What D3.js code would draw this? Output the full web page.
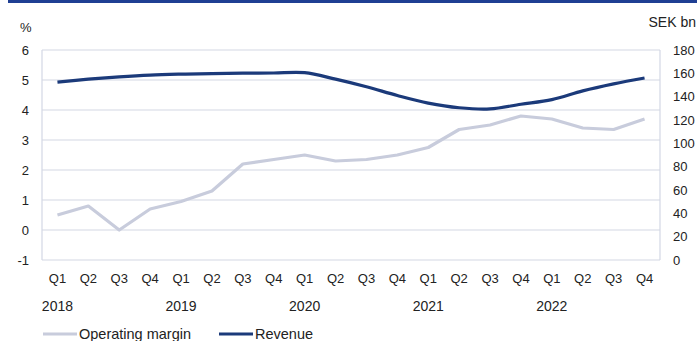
<!DOCTYPE html>
<html>
<head>
<meta charset="utf-8">
<script src="https://cdn.jsdelivr.net/npm/d3@7"></script>
<style>
  html, body { margin: 0; padding: 0; background: #fff; }
  svg { display: block; font-family: "Liberation Sans", Arial, sans-serif; }
</style>
</head>
<body>
<svg id="chart" width="697" height="341"></svg>
<script>
// Quarterly figures, 2018 Q1 – 2022 Q4
const quarters = ["Q1","Q2","Q3","Q4","Q1","Q2","Q3","Q4","Q1","Q2","Q3","Q4",
                  "Q1","Q2","Q3","Q4","Q1","Q2","Q3","Q4"];
const years = ["2018","2019","2020","2021","2022"];
const operatingMargin = [0.5, 0.8, 0.0, 0.7, 0.95, 1.3, 2.2, 2.35, 2.5, 2.3,
                         2.35, 2.5, 2.75, 3.35, 3.5, 3.8, 3.7, 3.4, 3.35, 3.7];
const revenue = [152.5, 155, 157, 158.5, 159.3, 159.8, 160.1, 160.3, 160.6, 155,
                 148.5, 141, 134.5, 130.5, 129.5, 133.5, 137.5, 145, 151, 156];
const leftTicks = [-1, 0, 1, 2, 3, 4, 5, 6];
const rightTicks = [0, 20, 40, 60, 80, 100, 120, 140, 160, 180];

const svg = d3.select("#chart");
const plot = { left: 42, right: 660, top: 50, bottom: 260 };
const navy = "#1b3a7a", grey = "#c8ccdc", grid = "#d3d7e4";

// Top rule
svg.append("rect").attr("x", 8).attr("y", 0).attr("width", 689).attr("height", 3)
  .attr("fill", "#1f3f93");

const idx = d3.range(quarters.length);
const x = d3.scaleBand().domain(idx).range([plot.left, plot.right]);
const xc = i => x(i) + x.bandwidth() / 2;
const yL = d3.scaleLinear().domain([-1, 6]).range([plot.bottom, plot.top]);
const yR = d3.scaleLinear().domain([0, 180]).range([plot.bottom, plot.top]);

// Horizontal gridlines
svg.append("g").selectAll("line").data(leftTicks).join("line")
  .attr("x1", plot.left).attr("x2", plot.right)
  .attr("y1", d => yL(d)).attr("y2", d => yL(d))
  .attr("stroke", grid).attr("stroke-width", 1.2);

// Plot frame sides
svg.append("line").attr("x1", plot.left).attr("x2", plot.left)
  .attr("y1", plot.top).attr("y2", plot.bottom).attr("stroke", grid).attr("stroke-width", 1.2);
svg.append("line").attr("x1", plot.right).attr("x2", plot.right)
  .attr("y1", plot.top).attr("y2", plot.bottom).attr("stroke", grid).attr("stroke-width", 1.2);

// Left axis labels
svg.append("g").selectAll("text").data(leftTicks).join("text")
  .attr("x", 29).attr("y", d => yL(d)).attr("dy", "0.35em")
  .attr("text-anchor", "end").attr("font-size", 13).attr("fill", "#222")
  .text(d => d);
svg.append("text").attr("x", 20).attr("y", 32).attr("font-size", 13).attr("fill", "#222").text("%");

// Right axis labels
svg.append("g").selectAll("text").data(rightTicks).join("text")
  .attr("x", 673).attr("y", d => yR(d)).attr("dy", "0.35em")
  .attr("text-anchor", "start").attr("font-size", 13).attr("fill", "#222")
  .text(d => d);
svg.append("text").attr("x", 696).attr("y", 27).attr("text-anchor", "end")
  .attr("font-size", 14).attr("fill", "#222").text("SEK bn");

// Quarter and year labels
svg.append("g").selectAll("text").data(idx).join("text")
  .attr("x", d => xc(d)).attr("y", 283).attr("text-anchor", "middle")
  .attr("font-size", 13).attr("fill", "#222").text(d => quarters[d]);
svg.append("g").selectAll("text").data(years).join("text")
  .attr("x", (d, i) => xc(i * 4)).attr("y", 311).attr("text-anchor", "middle")
  .attr("font-size", 14).attr("fill", "#222").text(d => d);

// Series lines
const marginLine = d3.line().x((d, i) => xc(i)).y(d => yL(d));
const revenueLine = d3.line().x((d, i) => xc(i)).y(d => yR(d)).curve(d3.curveCatmullRom.alpha(0.5));

svg.append("path").datum(operatingMargin).attr("d", marginLine)
  .attr("fill", "none").attr("stroke", grey).attr("stroke-width", 3.2)
  .attr("stroke-linejoin", "round");
svg.append("path").datum(revenue).attr("d", revenueLine)
  .attr("fill", "none").attr("stroke", navy).attr("stroke-width", 3.2)
  .attr("stroke-linejoin", "round");

// Legend
const legend = [
  { name: "Operating margin", color: grey, x: 43 },
  { name: "Revenue", color: navy, x: 219 }
];
const lg = svg.append("g").selectAll("g").data(legend).join("g");
lg.append("line").attr("x1", d => d.x).attr("x2", d => d.x + 34)
  .attr("y1", 334).attr("y2", 334).attr("stroke", d => d.color).attr("stroke-width", 3.2);
lg.append("text").attr("x", d => d.x + 36).attr("y", 338.5)
  .attr("font-size", 14.5).attr("fill", "#222").text(d => d.name);
</script>
</body>
</html>
